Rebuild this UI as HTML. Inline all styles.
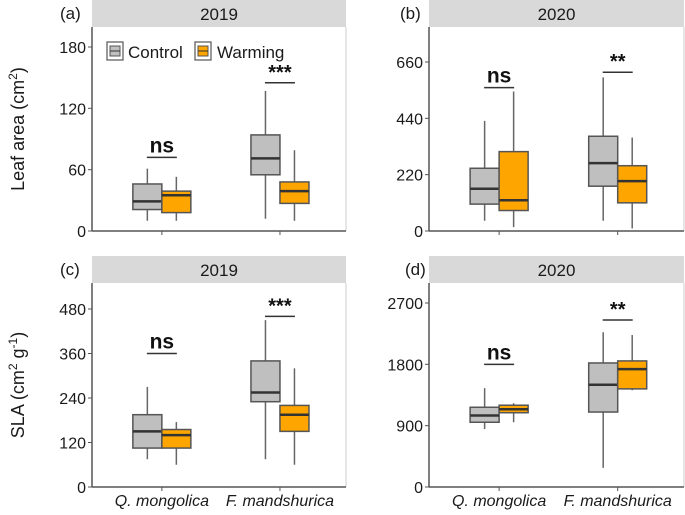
<!DOCTYPE html>
<html><head><meta charset="utf-8"><style>
body{margin:0;background:#fff}
svg text{font-family:"Liberation Sans",Arial,sans-serif}
</style></head><body>
<svg id="c" width="685" height="510" viewBox="0 0 685 510" xmlns="http://www.w3.org/2000/svg"></svg>
<script>
const categories=["Q. mongolica","F. mandshurica"];
const groups=["Control","Warming"];
// [min,q1,median,q3,max] per panel: [Q-control,Q-warming,F-control,F-warming]
const statsA=[[10,21,29,46,61],[10,18,35,39,53],[12,55,71,94,137],[10,27,39,48,79]];
const statsB=[[40,105,165,245,430],[15,80,120,310,545],[40,175,265,370,600],[10,110,195,255,365]];
const statsC=[[75,105,150,195,270],[60,105,140,155,175],[75,230,255,340,450],[60,150,195,220,320]];
const statsD=[[850,950,1050,1170,1450],[950,1090,1140,1200,1230],[280,1100,1500,1820,2270],[1420,1440,1730,1850,2230]];
const ticksA=[0,60,120,180],ticksB=[0,220,440,660],ticksC=[0,120,240,360,480],ticksD=[0,900,1800,2700];
const sigA=["ns","***"],sigB=["ns","**"],sigC=["ns","***"],sigD=["ns","**"];
const sigValA=[72,145],sigValB=[560,620],sigValC=[360,460],sigValD=[1800,2450];
const years=["2019","2020","2019","2020"];
const NS="http://www.w3.org/2000/svg";
const svg=document.getElementById('c');
function mk(t,a,p){const e=document.createElementNS(NS,t);for(const k in a)e.setAttribute(k,a[k]);(p||svg).appendChild(e);return e;}
const panels=[
 {id:'a',x0:92,x1:346,top:27,bot:231,stats:statsA,ticks:ticksA,sig:sigA,sv:sigValA,yr:years[0],lab:'(a)',lx:60},
 {id:'b',x0:429,x1:684,top:27,bot:231,stats:statsB,ticks:ticksB,sig:sigB,sv:sigValB,yr:years[1],lab:'(b)',lx:400},
 {id:'c',x0:92,x1:346,top:283,bot:487,stats:statsC,ticks:ticksC,sig:sigC,sv:sigValC,yr:years[2],lab:'(c)',lx:60},
 {id:'d',x0:429,x1:684,top:283,bot:487,stats:statsD,ticks:ticksD,sig:sigD,sv:sigValD,yr:years[3],lab:'(d)',lx:405}
];
panels[0].scale=(231-47)/180; panels[1].scale=(231-62)/660; panels[2].scale=(487-309)/480; panels[3].scale=(487-303)/2700;
panels.forEach((p,pi)=>{
 const g=mk('g',{});
 
 
 const y=v=>p.bot-v*p.scale;
 const cx=i=>p.x0+(i===0?0.275:0.74)*(p.x1-p.x0);
 const strip=mk('rect',{x:p.x0,y:p.top-27,width:p.x1-p.x0,height:27,fill:'#d9d9d9'},g);
 
 const st=mk('text',{x:(p.x0+p.x1)/2,y:p.top-7,'font-size':17,'text-anchor':'middle',fill:'#1a1a1a'},g);st.textContent=p.yr;
 
 const lb=mk('text',{x:p.lx,y:p.top-8,'font-size':17,fill:'#1a1a1a'},g);lb.textContent=p.lab;
 
 mk('line',{x1:p.x1,y1:p.top,x2:p.x1,y2:p.bot,stroke:'#ccc','stroke-width':1},g);
 mk('line',{x1:p.x0,y1:p.top,x2:p.x0,y2:p.bot,stroke:'#555','stroke-width':1.5},g);
 mk('line',{x1:p.x0,y1:p.bot,x2:p.x1,y2:p.bot,stroke:'#555','stroke-width':1.5},g);
 p.ticks.forEach(t=>{
  mk('line',{x1:p.x0-4,y1:y(t),x2:p.x0,y2:y(t),stroke:'#555'},g);
  const tt=mk('text',{x:p.x0-6,y:y(t)+6,'font-size':16,'text-anchor':'end',fill:'#1a1a1a'},g);tt.textContent=t;
  
 });
 [0,1].forEach(ci=>{
  mk('line',{x1:cx(ci),y1:p.bot,x2:cx(ci),y2:p.bot+4,stroke:'#555'},g);
  [0,1].forEach(gi=>{
   const s=p.stats[ci*2+gi];const w=29;const bx=gi===0?cx(ci)-w:cx(ci);const mx=bx+w/2;
   const fill=gi===0?'#bfbfbf':'#ffa500';
   mk('line',{x1:mx,y1:y(s[0]),x2:mx,y2:y(s[4]),stroke:'#666','stroke-width':1.5},g);
   const r=mk('rect',{x:bx,y:y(s[3]),width:w,height:y(s[1])-y(s[3]),fill:fill,stroke:'#555','stroke-width':1.5},g);
   
   
   mk('line',{x1:bx,y1:y(s[2]),x2:bx+w,y2:y(s[2]),stroke:'#333','stroke-width':2.5},g);
  });
  const sy=y(p.sv[ci]);const ns=p.sig[ci]==='ns';
  const sx=mk('text',{x:cx(ci),y:sy-(ns?5:4),'font-size':ns?21:20,'font-weight':'bold','text-anchor':'middle',fill:'#111'},g);sx.textContent=p.sig[ci];
  
  mk('line',{x1:cx(ci)-15,y1:sy,x2:cx(ci)+15,y2:sy,stroke:'#333','stroke-width':1.5},g);
 });
 if(pi>=2){[0,1].forEach(ci=>{const xt=mk('text',{x:cx(ci),y:506,'font-size':16,'font-style':'italic','text-anchor':'middle',fill:'#1a1a1a'},g);xt.textContent=categories[ci];
  });}
});
const t1=mk('text',{transform:'translate(24,129) rotate(-90)','font-size':18,'text-anchor':'middle',fill:'#1a1a1a'});
t1.innerHTML='Leaf area (cm<tspan dy="-7" font-size="12">2</tspan><tspan dy="7">)</tspan>';

const t2=mk('text',{transform:'translate(24,385) rotate(-90)','font-size':18,'text-anchor':'middle',fill:'#1a1a1a'});
t2.innerHTML='SLA (cm<tspan dy="-7" font-size="12">2</tspan><tspan dy="7"> g</tspan><tspan dy="-7" font-size="12">-1</tspan><tspan dy="7">)</tspan>';

const lg=mk('g',{});
[[107,'#bfbfbf','Control',128],[195,'#ffa500','Warming',217]].forEach(([x,f,t,tx])=>{
 mk('rect',{x:x,y:42,width:16,height:18,fill:'#fff',stroke:'#555','stroke-width':1.2},lg);
 mk('rect',{x:x+3,y:46,width:10,height:10,fill:f,stroke:'#555'},lg);
 mk('line',{x1:x+3,y1:51,x2:x+13,y2:51,stroke:'#333'},lg);
 const e=mk('text',{x:tx,y:58,'font-size':17,fill:'#1a1a1a'},lg);e.textContent=t;
 
});
</script>
</body></html>
